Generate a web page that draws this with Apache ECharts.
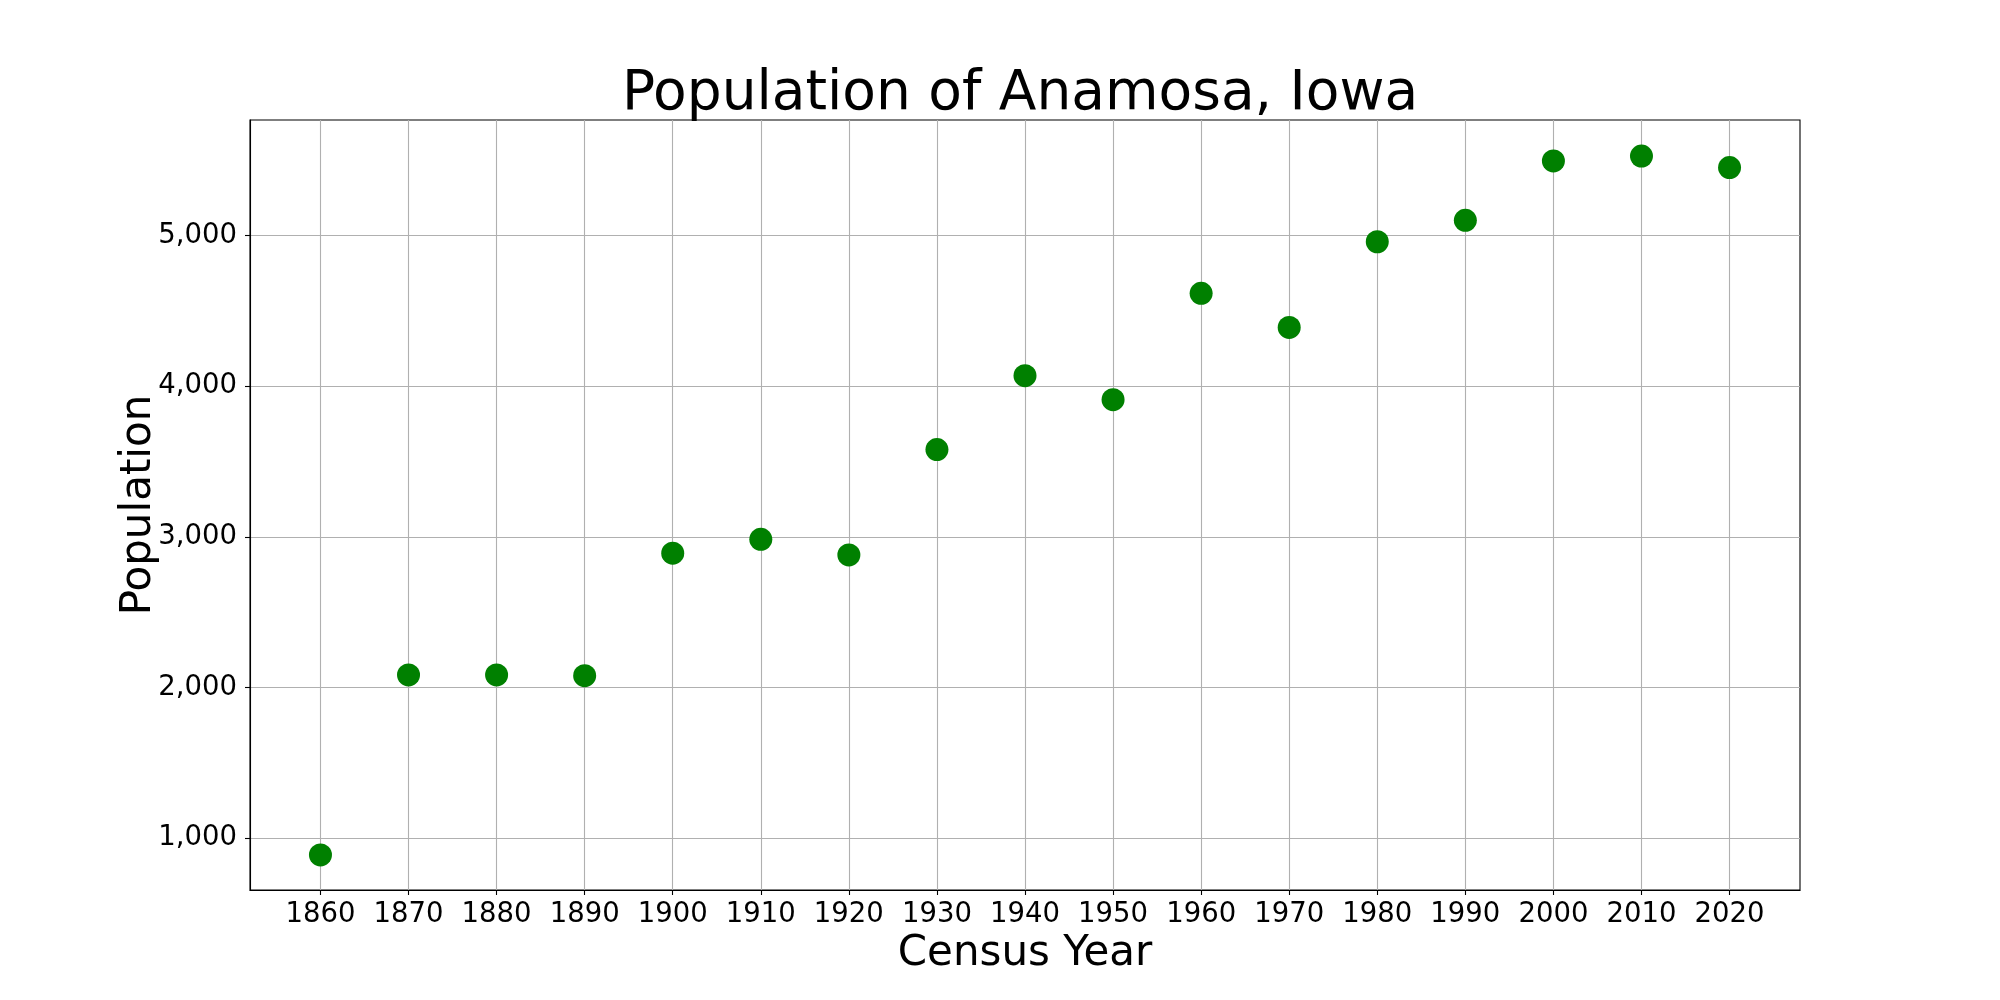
<!DOCTYPE html>
<html>
<head>
<meta charset="utf-8">
<script src="https://cdn.jsdelivr.net/npm/echarts@6/dist/echarts.min.js"></script>
<style>html,body{margin:0;padding:0;background:#fff;}#chart{width:2000px;height:1000px;}</style>
</head>
<body>
<div id="chart"></div>
<script>
const years = [1860,1870,1880,1890,1900,1910,1920,1930,1940,1950,1960,1970,1980,1990,2000,2010,2020];
const population = [889,2083,2083,2078,2891,2983,2880,3579,4069,3910,4616,4389,4958,5100,5494,5527,5450];
const xTicks = [1860,1870,1880,1890,1900,1910,1920,1930,1940,1950,1960,1970,1980,1990,2000,2010,2020];
const yTicks = [1000,2000,3000,4000,5000];

const FONT = 'DejaVu Sans';
const chart = echarts.init(document.getElementById('chart'), null, {renderer:'canvas'});
chart.setOption({
  animation:false,
  backgroundColor:'#fff',
  title:{
    text:'Population of Anamosa, Iowa',
    left:1015, textAlign:'center', top:62,
    textStyle:{fontFamily:FONT, fontSize:55, fontWeight:'normal', color:'#000'}
  },
  grid:{left:250, right:200, top:120, bottom:110, show:true, borderColor:'#000', borderWidth:1.1, backgroundColor:'transparent'},
  xAxis:{
    type:'value', min:1852, max:2028,
    name:'Census Year', nameLocation:'middle', nameGap:43, nameMoveOverlap:false,
    nameTextStyle:{fontFamily:FONT, fontSize:42, color:'#000'},
    axisLine:{show:true, onZero:false, lineStyle:{color:'#000', width:1.1}},
    axisTick:{show:true, length:5, lineStyle:{color:'#000', width:1.1}, customValues:xTicks},
    axisLabel:{fontFamily:FONT, fontSize:27.5, color:'#000', margin:11, customValues:xTicks, formatter:v=>String(v)},
    splitLine:{show:true, lineStyle:{color:'#b0b0b0', width:1.1}}
  },
  yAxis:{
    type:'value', min:656, max:5766,
    name:'Population', nameLocation:'middle', nameGap:90, nameRotate:90, nameMoveOverlap:false,
    nameTextStyle:{fontFamily:FONT, fontSize:42, color:'#000'},
    axisLine:{show:true, onZero:false, lineStyle:{color:'#000', width:1.1}},
    axisTick:{show:true, length:5, lineStyle:{color:'#000', width:1.1}, customValues:yTicks},
    axisLabel:{fontFamily:FONT, fontSize:27.5, color:'#000', margin:13, customValues:yTicks,
      formatter:v=>v.toLocaleString('en-US')},
    splitLine:{show:true, lineStyle:{color:'#b0b0b0', width:1.1}}
  },
  series:[{
    type:'scatter',
    data: years.map((y,i)=>[y, population[i]]),
    symbol:'circle', symbolSize:23,
    itemStyle:{color:'#008000', opacity:1}
  }]
});
</script>
</body>
</html>
